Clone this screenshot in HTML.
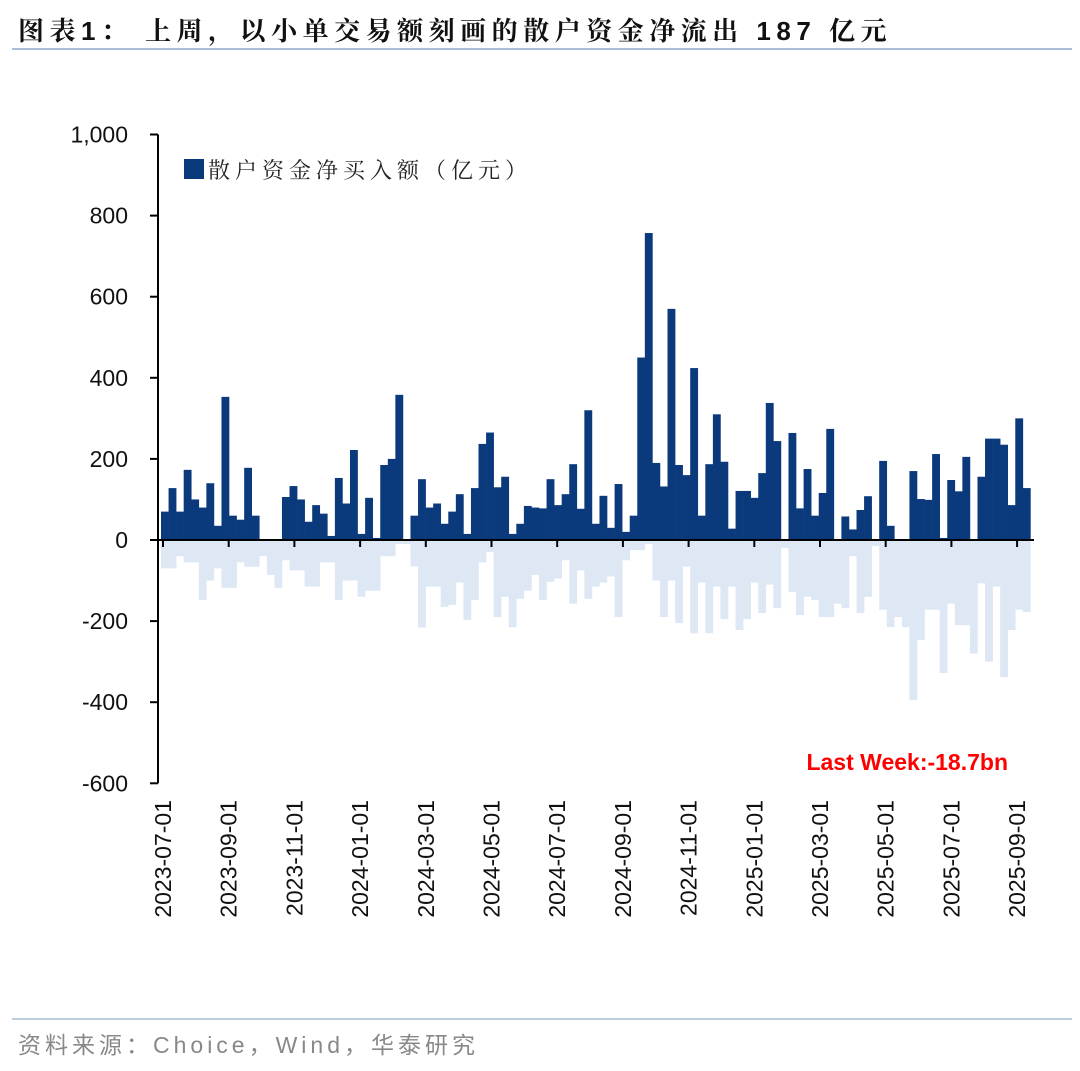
<!DOCTYPE html>
<html><head><meta charset="utf-8"><style>
body{margin:0;background:#fff;width:1080px;height:1066px;overflow:hidden;font-family:"Liberation Sans","Noto Sans CJK SC",sans-serif;}
</style></head><body>
<svg width="1080" height="1066" xmlns="http://www.w3.org/2000/svg">
<text x="18" y="40" font-size="26" font-weight="bold" letter-spacing="5.5" fill="#111" font-family="'Liberation Sans','Noto Serif CJK SC',serif">图表1：  上周，以小单交易额刻画的散户资金净流出 187 亿元</text>
<line x1="12" y1="49" x2="1072" y2="49" stroke="#a9bdd6" stroke-width="2"/>
<g id="neg"></g>
<g id="pos"></g>
<g id="axes"></g>
<rect x="184" y="159" width="20" height="20" fill="#0a3a7c"/>
<text x="208" y="178" font-size="22" letter-spacing="5" fill="#222" font-family="'Liberation Sans','Noto Serif CJK SC',serif">散户资金净买入额（亿元）</text>
<text x="1008" y="770" font-size="23" font-weight="bold" fill="#ff0000" text-anchor="end">Last Week:-18.7bn</text>
<line x1="12" y1="1019" x2="1072" y2="1019" stroke="#a9bdd6" stroke-width="1.5"/>
<text x="18" y="1053" font-size="23" letter-spacing="4" fill="#888">资料来源：Choice，Wind，华泰研究</text>
</svg>
<script>
const posValues=[70,128,70,173,100,80,140,35,353,60,50,178,60,0,0,0,106,133,100,45,86,65,10,153,90,222,15,104,5,185,200,358,0,60,150,80,90,40,70,113,15,128,237,265,130,156,15,40,84,80,78,150,86,113,187,77,320,40,109,30,138,20,60,450,757,190,132,570,185,160,424,60,187,310,193,28,121,121,104,165,338,244,0,264,78,175,60,116,274,0,58,26,74,108,0,195,35,0,0,170,101,99,212,5,148,120,205,0,156,250,250,235,86,300,128];
const negValues=[-70,-70,-40,-55,-55,-148,-100,-70,-118,-118,-55,-66,-66,-40,-86,-118,-50,-75,-75,-115,-115,-55,-55,-148,-100,-100,-140,-125,-125,-40,-40,-10,-10,-65,-216,-115,-115,-165,-160,-105,-197,-148,-55,-30,-190,-140,-215,-145,-125,-86,-148,-103,-95,-50,-157,-75,-145,-115,-105,-90,-190,-50,-25,-25,-10,-100,-190,-100,-205,-66,-230,-105,-230,-115,-195,-115,-222,-195,-105,-180,-110,-168,-20,-128,-185,-140,-148,-190,-190,-157,-168,-40,-180,-140,-15,-172,-215,-190,-215,-395,-247,-172,-172,-328,-157,-210,-210,-280,-107,-300,-115,-338,-222,-172,-178];
const yTicks=[1000,800,600,400,200,0,-200,-400,-600];
const xTickLabels=["2023-07-01","2023-09-01","2023-11-01","2024-01-01","2024-03-01","2024-05-01","2024-07-01","2024-09-01","2024-11-01","2025-01-01","2025-03-01","2025-05-01","2025-07-01","2025-09-01"];
const NS="http://www.w3.org/2000/svg";
const X0=161,WEEK=7.56,TICKSTEP=65.7;
function y(v){return 540-v*0.4055;}
function xw(i){return X0+i*WEEK;}
function mk(t,a,p){const e=document.createElementNS(NS,t);for(const k in a)e.setAttribute(k,a[k]);p.appendChild(e);return e;}
const neg=document.getElementById('neg'),pos=document.getElementById('pos'),ax=document.getElementById('axes');
negValues.forEach((v,i)=>{const r=mk('rect',{x:xw(i),y:y(0),width:WEEK+0.3,height:Math.max(0,y(v)-y(0)),fill:'#dde8f4'},neg);

});
posValues.forEach((v,i)=>{const r=mk('rect',{x:xw(i),y:y(v),width:WEEK+0.3,height:Math.max(0,y(0)-y(v)),fill:'#0a3a7c'},pos);

});
const yl=mk('line',{x1:158,y1:y(1000),x2:158,y2:y(-600),stroke:'#000','stroke-width':2},ax);


yTicks.forEach(v=>{mk('line',{x1:150,y1:y(v),x2:158,y2:y(v),stroke:'#000','stroke-width':2},ax);
const t=mk('text',{x:128,y:y(v)+8,'font-size':23,'text-anchor':'end',fill:'#111'},ax);t.textContent=v.toLocaleString('en-US');

});
const xl=mk('line',{x1:158,y1:540,x2:1034,y2:540,stroke:'#000','stroke-width':2},ax);


xTickLabels.forEach((s,i)=>{const x=163+i*TICKSTEP;mk('line',{x1:x,y1:540,x2:x,y2:547,stroke:'#000','stroke-width':2},ax);
const t=mk('text',{x:0,y:0,'font-size':23,'text-anchor':'end',fill:'#111',transform:`translate(${x+8},800) rotate(-90)`},ax);t.textContent=s;

});
</script>
</body></html>
